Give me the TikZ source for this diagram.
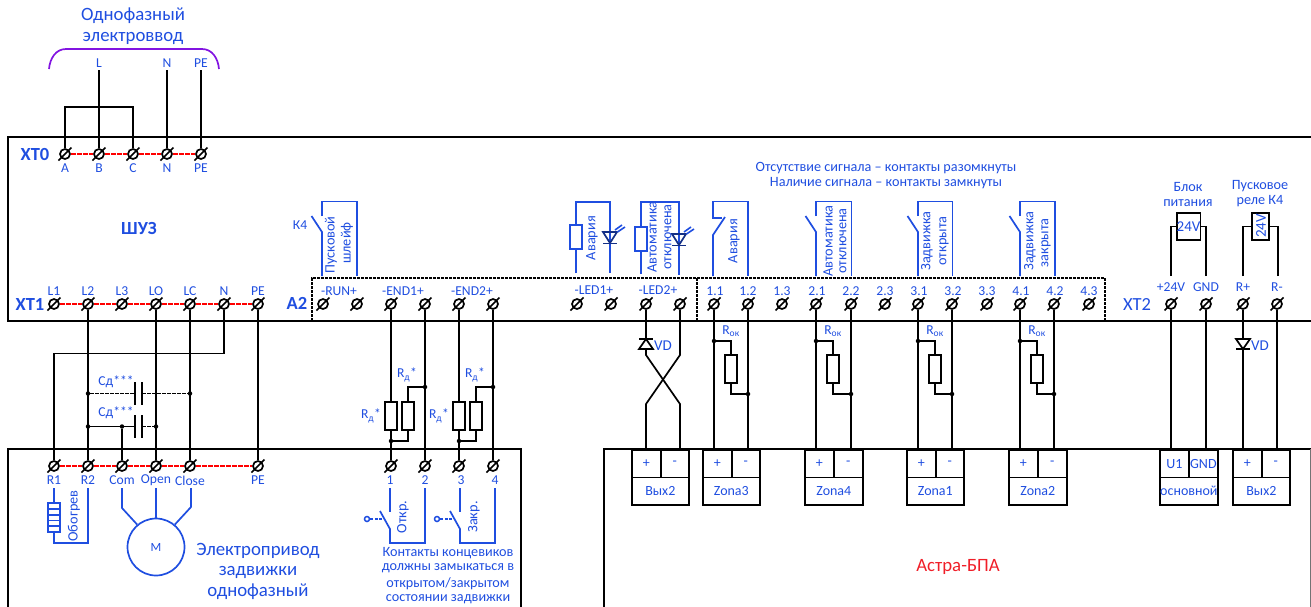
\documentclass[tikz,border=0pt]{standalone}
\usepackage{fontspec}
\setmainfont{Carlito}
\usepackage{tikz}
\usetikzlibrary{calc}
\definecolor{lblue}{RGB}{31,78,224}
\definecolor{lred}{RGB}{240,30,40}
\definecolor{lpurple}{RGB}{130,20,225}
\tikzset{
  wire/.style={line width=1.7pt,black},
  bwire/.style={line width=1.7pt,lblue},
  boxline/.style={line width=1.7pt,black},
  reddash/.style={line width=1.7pt,red,dash pattern=on 5pt off 1pt},
  termnode/.style={circle,draw,fill=white,line width=1.7pt,minimum size=10pt,inner sep=0pt},
  dotnode/.style={circle,fill=black,minimum size=4.5pt,inner sep=0pt},
  resnode/.style={rectangle,draw,fill=white,line width=1.7pt,minimum width=12pt,minimum height=28pt,inner sep=0pt},
  cellnode/.style={rectangle,draw,line width=1.7pt,text=lblue,font=\fontsize{14}{16}\selectfont,inner sep=0pt,minimum height=27.5pt},
  lbl/.style={text=lblue,font=\fontsize{13.6}{15}\selectfont,inner sep=0pt},
  biglbl/.style={text=lblue,font=\fontsize{18.8}{21}\selectfont,inner sep=0pt,align=center},
  boldlbl/.style={text=lblue,font=\fontsize{18.5}{20}\selectfont\bfseries,inner sep=0pt},
  rotlbl/.style={text=lblue,font=\fontsize{14.3}{15}\selectfont,inner sep=0pt,rotate=90},
  noteline/.style={text=lblue,font=\fontsize{14.2}{15}\selectfont,inner sep=0pt}
}
% Terminal: round screw with a slash
\newcommand{\terminal}[2]{
  \node[termnode] (#1) at #2 {};
  \draw[line width=1.7pt] ($(#1)+(-6.5,6.5)$) -- ($(#1)+(6.5,-6.5)$);
}
% Two cells and a name cell below them
\newcommand{\cellpair}[7]{
  \node[cellnode,minimum width=#3pt-#2pt,anchor=north west] (#1n) at (#2,476.5) {#7};
  \node[cellnode,minimum width=#4pt-#2pt,anchor=north west] (#1p) at (#2,449) {#5};
  \node[cellnode,minimum width=#3pt-#4pt,anchor=north west] (#1m) at (#4,449) {#6};
}
% Normally open contact, wired up into a bracket
\newcommand{\contact}[3]{
  \coordinate (#1a) at (#2,276);
  \coordinate (#1b) at (#2,232);
  \coordinate (#1c) at (#2,216);
  \coordinate (#1d) at (#2,201.5);
  \coordinate (#1e) at (#3,201.5);
  \coordinate (#1f) at (#3,276);
  \coordinate (#1g) at (#2-10.5,216);
  \draw[bwire] (#1a) -- (#1b) -- (#1g);
  \draw[bwire] (#1c) -- (#1d) -- (#1e) -- (#1f);
}
% Ballast resistor between a dot on one wire and a dot on the other
\newcommand{\rok}[4]{
  \node[resnode] (#1) at (#4,369) {};
  \node[dotnode] (#1u) at (#2,341) {};
  \node[dotnode] (#1l) at (#3,394) {};
  \draw[wire] (#1u) -| (#1.north);
  \draw[wire] (#1.south) |- (#1l);
  \node[lbl] (#1t) at (#4,331) {R\textsubscript{ок}};
}
% LED with its two rays
\newcommand{\led}[3]{
  \coordinate (#1) at (#2,#3);
  \draw[line width=1.7pt,lblue!60!black] ($(#1)+(-7,0)$) -- ($(#1)+(7,0)$) -- ($(#1)+(0,11)$) -- cycle;
  \draw[line width=1.7pt,lblue!60!black] ($(#1)+(-7,11.5)$) -- ($(#1)+(7,11.5)$);
  \draw[line width=1.6pt,lblue] ($(#1)+(5,-2)$) -- ($(#1)+(12,-7)$);
  \draw[line width=1.6pt,lblue] ($(#1)+(7.5,0)$) -- ($(#1)+(15,-5)$);
}
\begin{document}
\begin{tikzpicture}[x=1pt,y=-1pt]
  \useasboundingbox (0,0) rectangle (1311,606);

  % Boxes
  \draw[boxline] (1312,137) -- (8,137) -- (8,321) -- (1312,321);
  \draw[boxline] (8,607) -- (8,449) -- (521,449) -- (521,607);
  \draw[boxline] (604,607) -- (604,449) -- (1312,449);
  \draw[line width=1pt,black!55] (1310,449) -- (1310,607);
  \draw[boxline,dash pattern=on 3pt off 1pt] (312,321) -- (312,278) -- (1105,278) -- (1105,321);
  \draw[boxline,dash pattern=on 3pt off 1pt] (697,278) -- (697,321);

  % Input
  \node[biglbl] (title) at (133,26) {Однофазный\\[-0.5pt]электроввод};
  \draw[line width=1.7pt,lpurple] (49,69) .. controls (50,58) and (56,49) .. (66,49) -- (202,49) .. controls (212,49) and (218,58) .. (219,69);

  % Terminals XT0
  \node[boldlbl] (xt0) at (35,154) {XT0};
  \terminal{xa}{(65,154)}
  \terminal{xb}{(99,154)}
  \terminal{xc}{(133,154)}
  \terminal{xn}{(167,154)}
  \terminal{xpe}{(201,154)}
  \draw[reddash] (xa) -- (xb) (xb) -- (xc) (xc) -- (xn) (xn) -- (xpe);
  \node[lbl] (lxa) at (65,168) {A};
  \node[lbl] (lxb) at (99,168) {B};
  \node[lbl] (lxc) at (133,168) {C};
  \node[lbl] (lxn) at (167,168) {N};
  \node[lbl] (lxpe) at (201,168) {PE};
  \node[lbl] (inl) at (99,63) {L};
  \node[lbl] (inn) at (167,63) {N};
  \node[lbl] (inpe) at (201,63) {PE};
  \draw[wire] (inl) ++(0,7) -- (xb);
  \draw[wire] (inn) ++(0,7) -- (xn);
  \draw[wire] (inpe) ++(0,7) -- (xpe);
  \draw[wire] (xa) |- (99,107) -| (xc);

  \node[boldlbl] (shuz) at (139,228) {ШУЗ};

  % Terminals XT1
  \node[boldlbl] (xt1) at (30,304) {XT1};
  \terminal{ta}{(54,304)}
  \terminal{tb}{(88,304)}
  \terminal{tc}{(122,304)}
  \terminal{td}{(156,304)}
  \terminal{te}{(190,304)}
  \terminal{tf}{(224,304)}
  \terminal{tg}{(258,304)}
  \draw[reddash] (ta) -- (tb) (tb) -- (tc) (tc) -- (td) (td) -- (te) (te) -- (tf) (tf) -- (tg);
  \node[lbl] (lta) at (54,291) {L1};
  \node[lbl] (ltb) at (88,291) {L2};
  \node[lbl] (ltc) at (122,291) {L3};
  \node[lbl] (ltd) at (156,291) {LO};
  \node[lbl] (lte) at (190,291) {LC};
  \node[lbl] (ltf) at (224,291) {N};
  \node[lbl] (ltg) at (258,291) {PE};

  % Terminals A2
  \node[boldlbl] (atwo) at (297,303) {A2};
  \terminal{run1}{(323,304)}
  \terminal{run2}{(357,304)}
  \terminal{end1}{(391,304)}
  \terminal{end2}{(425,304)}
  \terminal{end3}{(459,304)}
  \terminal{end4}{(493,304)}
  \terminal{led1}{(577,304)}
  \terminal{led2}{(611,304)}
  \terminal{led3}{(646,304)}
  \terminal{led4}{(680,304)}
  \terminal{z11}{(714,304)}
  \terminal{z12}{(748,304)}
  \terminal{z13}{(782,304)}
  \terminal{z21}{(816,304)}
  \terminal{z22}{(851,304)}
  \terminal{z23}{(885,304)}
  \terminal{z31}{(918,304)}
  \terminal{z32}{(952,304)}
  \terminal{z33}{(987,304)}
  \terminal{z41}{(1020,304)}
  \terminal{z42}{(1054,304)}
  \terminal{z43}{(1089,304)}
  \node[lbl] (lrun) at (339,291) {-RUN+};
  \node[lbl] (lend1) at (403,291) {-END1+};
  \node[lbl] (lend2) at (472,291) {-END2+};
  \node[lbl] (lled1) at (594,290) {-LED1+};
  \node[lbl] (lled2) at (658,290) {-LED2+};
  \node[lbl] (l11) at (715,291) {1.1};
  \node[lbl] (l12) at (748,291) {1.2};
  \node[lbl] (l13) at (782,291) {1.3};
  \node[lbl] (l21) at (817,291) {2.1};
  \node[lbl] (l22) at (851,291) {2.2};
  \node[lbl] (l23) at (885,291) {2.3};
  \node[lbl] (l31) at (919,291) {3.1};
  \node[lbl] (l32) at (953,291) {3.2};
  \node[lbl] (l33) at (987,291) {3.3};
  \node[lbl] (l41) at (1021,291) {4.1};
  \node[lbl] (l42) at (1055,291) {4.2};
  \node[lbl] (l43) at (1089,291) {4.3};

  % Terminals XT2
  \node[text=lblue,font=\fontsize{18.5}{20}\selectfont,inner sep=0pt] (xt2) at (1137,304) {XT2};
  \terminal{pa}{(1171,304)}
  \terminal{pb}{(1206,304)}
  \terminal{pc}{(1243,304)}
  \terminal{pd}{(1277,304)}
  \node[lbl] (lpa) at (1171,287) {+24V};
  \node[lbl] (lpb) at (1206,287) {GND};
  \node[lbl] (lpc) at (1243,287) {R+};
  \node[lbl] (lpd) at (1277,287) {R-};

  % Start loop
  \contact{ka}{322}{357}
  \node[lbl] (kfour) at (300,225) {К4};
  \node[rotlbl] (ksa) at (331,245) {Пусковой};
  \node[rotlbl] (ksb) at (347,243) {шлейф};

  % LED outputs
  \node[resnode,draw=lblue,minimum height=24pt] (rla) at (576,237) {};
  \coordinate (rlat) at (576,202);
  \coordinate (rlas) at (576,273);
  \coordinate (rlae) at (610,202);
  \coordinate (rlaf) at (610,273);
  \draw[bwire] (rlas) -- (rla.south) (rla.north) -- (rlat) -- (rlae) -- (rlaf);
  \led{lda}{610}{232}
  \node[rotlbl] (txa) at (592,238) {Авария};

  \node[resnode,draw=lblue,minimum height=24pt] (rlb) at (641,239) {};
  \coordinate (rlbt) at (641,202);
  \coordinate (rlbs) at (641,274);
  \coordinate (rlbe) at (679,202);
  \coordinate (rlbf) at (679,275);
  \draw[bwire] (rlbs) -- (rlb.south) (rlb.north) -- (rlbt) -- (rlbe) -- (rlbf);
  \led{ldb}{679}{234}
  \node[rotlbl] (txba) at (652,237) {Автоматика};
  \node[rotlbl] (txbb) at (668,237) {отключена};

  % Signal contacts
  \coordinate (nca) at (713,276);
  \coordinate (ncb) at (713,235);
  \coordinate (ncc) at (725,217);
  \coordinate (ncd) at (713,218);
  \coordinate (nce) at (713,201.5);
  \coordinate (ncf) at (748,201.5);
  \coordinate (ncg) at (748,276);
  \coordinate (nch) at (722,218);
  \draw[bwire] (nca) -- (ncb) -- (ncc);
  \draw[bwire] (ncg) -- (ncf) -- (nce) -- (ncd) -- (nch);
  \node[rotlbl] (tya) at (734,241) {Авария};

  \contact{kb}{816}{851.5}
  \node[rotlbl] (tyb) at (828,241) {Автоматика};
  \node[rotlbl] (tyc) at (843,241) {отключена};
  \contact{kc}{918}{952.5}
  \node[rotlbl] (tyd) at (927,241) {Задвижка};
  \node[rotlbl] (tye) at (944,241) {открыта};
  \contact{kd}{1020}{1055}
  \node[rotlbl] (tyf) at (1030,241) {Задвижка};
  \node[rotlbl] (tyg) at (1046,243) {закрыта};
  \node[noteline] (nota) at (886,168) {Отсутствие сигнала – контакты разомкнуты};
  \node[noteline] (notb) at (886,183) {Наличие сигнала – контакты замкнуты};

  % Power supply and relay
  \node[noteline,align=center] (psu) at (1188,194) {Блок\\питания};
  \node[noteline,align=center] (rel) at (1260,194) {Пусковое\\реле К4};
  \node[rectangle,draw,line width=1.7pt,minimum width=23pt,minimum height=27.5pt,inner sep=0pt,text=lblue,font=\fontsize{15}{16}\selectfont] (coila) at (1188.5,226.5) {24V};
  \node[rectangle,draw,line width=1.7pt,minimum width=17.5pt,minimum height=27.5pt,inner sep=0pt] (coilb) at (1260.5,226.5) {};
  \node[rotlbl,font=\fontsize{15}{16}\selectfont] (coilt) at (1261,226) {24V};
  \coordinate (cpa) at (1171,276);
  \coordinate (cpb) at (1206,276);
  \coordinate (cpc) at (1243,276);
  \coordinate (cpd) at (1278,276);
  \draw[wire] (cpa) |- (coila.west);
  \draw[wire] (cpb) |- (coila.east);
  \draw[wire] (cpc) |- (coilb.west);
  \draw[wire] (cpd) |- (coilb.east);

  % Drive box
  \terminal{ma}{(54,466)}
  \terminal{mb}{(88,466)}
  \terminal{mc}{(122,466)}
  \terminal{md}{(156,466)}
  \terminal{me}{(190,466)}
  \terminal{mf}{(258,466)}
  \draw[reddash] (ma) -- (mb) (mb) -- (mc) (mc) -- (md) (md) -- (me) (me) -- (mf);
  \node[lbl] (lma) at (54,480) {R1};
  \node[lbl] (lmb) at (88,480) {R2};
  \node[lbl] (lmc) at (122,480) {Com};
  \node[lbl] (lmd) at (156,480) {Open};
  \node[lbl] (lme) at (190,481) {Close};
  \node[lbl] (lmf) at (258,480) {PE};
  \draw[wire] (tf) |- (54,353.5) -- (ma);
  \draw[wire] (tb) -- (mb);
  \draw[wire] (td) -- (md);
  \draw[wire] (te) -- (me);
  \draw[wire] (tg) -- (mf);

  % Capacitors
  \node[dotnode] (cda) at (88,393.5) {};
  \node[dotnode] (cdb) at (190,393.5) {};
  \node[dotnode] (cdc) at (88,426.5) {};
  \node[dotnode] (cdd) at (122,426.5) {};
  \node[dotnode] (cde) at (156,426.5) {};
  \coordinate (capa) at (135,393.5);
  \coordinate (capb) at (142,393.5);
  \coordinate (capc) at (135,426.5);
  \coordinate (capd) at (142,426.5);
  \draw[wire,dash pattern=on 4pt off 1pt] (cda) -- (capa);
  \draw[wire,dash pattern=on 4pt off 1pt] (capb) -- (cdb);
  \draw[wire] (cdc) -- (cdd) -- (capc);
  \draw[wire,dash pattern=on 4pt off 1pt] (capd) -- (cde);
  \draw[wire] (135,382) -- (135,405);
  \draw[wire] (142,382) -- (142,405);
  \draw[wire] (135,415) -- (135,438);
  \draw[wire] (142,415) -- (142,438);
  \draw[wire] (cdd) -- (mc);
  \node[lbl] (lcapa) at (116,382) {Сд***};
  \node[lbl] (lcapb) at (116,413) {Сд***};

  % Heater
  \coordinate (hta) at (54,488);
  \coordinate (htb) at (88,488);
  \coordinate (htc) at (54,543);
  \coordinate (htd) at (88,543);
  \node[rectangle,draw=lblue,line width=1.7pt,minimum width=12pt,minimum height=29pt,inner sep=0pt] (heat) at (54,517.5) {};
  \draw[bwire] (hta) -- (heat.north);
  \draw[bwire] (heat.south) -- (htc) -- (htd) -- (htb);
  \draw[line width=1.3pt,lblue] (48,509) -- (60,509) (48,515) -- (60,515) (48,520.5) -- (60,520.5) (48,526) -- (60,526);
  \node[rotlbl] (lheat) at (74,516) {Обогрев};

  % Motor
  \node[circle,draw=lblue,line width=1.7pt,minimum size=57pt,inner sep=0pt,text=lblue,font=\fontsize{12.5}{14}\selectfont] (motor) at (156,547) {М};
  \coordinate (mwa) at (122,488);
  \coordinate (mwb) at (122,508);
  \coordinate (mwc) at (156,488);
  \coordinate (mwd) at (191,488);
  \coordinate (mwe) at (191,507);
  \draw[bwire] (mwa) -- (mwb) -- (motor.130);
  \draw[bwire] (mwc) -- (motor.north);
  \draw[bwire] (mwd) -- (mwe) -- (motor.50);
  \node[biglbl] (drive) at (258,571) {Электропривод\\[-0.5pt]задвижки\\[-0.5pt]однофазный};

  % Additional resistors
  \node[resnode] (rda) at (391,416) {};
  \node[resnode] (rdb) at (408,416) {};
  \node[resnode] (rdc) at (459,416) {};
  \node[resnode] (rdd) at (476,416) {};
  \terminal{la}{(391,466)}
  \terminal{lb}{(425,466)}
  \terminal{lc}{(459,466)}
  \terminal{ld}{(493,466)}
  \node[dotnode] (dta) at (425,387) {};
  \node[dotnode] (dtb) at (391,441) {};
  \node[dotnode] (dtc) at (493,387) {};
  \node[dotnode] (dtd) at (459,441) {};
  \draw[wire] (end1) -- (rda.north) (rda.south) -- (la);
  \draw[wire] (end2) -- (lb);
  \draw[wire] (end3) -- (rdc.north) (rdc.south) -- (lc);
  \draw[wire] (end4) -- (ld);
  \draw[wire] (rdb.north) |- (dta);
  \draw[wire] (rdb.south) |- (dtb);
  \draw[wire] (rdd.north) |- (dtc);
  \draw[wire] (rdd.south) |- (dtd);
  \node[lbl] (rdla) at (371,416) {R\textsubscript{д}*};
  \node[lbl] (rdlb) at (407,375) {R\textsubscript{д}*};
  \node[lbl] (rdlc) at (439,416) {R\textsubscript{д}*};
  \node[lbl] (rdld) at (475,375) {R\textsubscript{д}*};
  \node[lbl] (lla) at (390,480) {1};
  \node[lbl] (llb) at (425,480) {2};
  \node[lbl] (llc) at (461,480) {3};
  \node[lbl] (lld) at (495,480) {4};

  % Limit switches
  \coordinate (swa) at (390,488);
  \coordinate (swb) at (390,512);
  \coordinate (swc) at (380,511);
  \coordinate (swd) at (390,529);
  \coordinate (swe) at (390,543);
  \coordinate (swf) at (425,543);
  \coordinate (swg) at (425,488);
  \coordinate (swq) at (385,519);
  \draw[bwire] (swa) -- (swb);
  \draw[bwire] (swc) -- (swd) -- (swe) -- (swf) -- (swg);
  \node[circle,draw=lblue,line width=1.5pt,minimum size=5pt,inner sep=0pt] (swo) at (367,519) {};
  \draw[line width=1.4pt,lblue,dash pattern=on 3pt off 1.5pt] (swo) -- (swq);
  \node[rotlbl] (lswa) at (403,517) {Откр.};
  \coordinate (swh) at (460,488);
  \coordinate (swi) at (460,512);
  \coordinate (swj) at (450,511);
  \coordinate (swk) at (460,529);
  \coordinate (swl) at (460,543);
  \coordinate (swm) at (495,543);
  \coordinate (swn) at (495,488);
  \coordinate (swr) at (455,519);
  \draw[bwire] (swh) -- (swi);
  \draw[bwire] (swj) -- (swk) -- (swl) -- (swm) -- (swn);
  \node[circle,draw=lblue,line width=1.5pt,minimum size=5pt,inner sep=0pt] (swp) at (437,519) {};
  \draw[line width=1.4pt,lblue,dash pattern=on 3pt off 1.5pt] (swp) -- (swr);
  \node[rotlbl] (lswb) at (474,517) {Закр.};
  \node[noteline] (cta) at (448,553) {Контакты концевиков};
  \node[noteline] (ctb) at (448,568) {должны замыкаться в};
  \node[noteline] (ctc) at (448,584) {открытом/закрытом};
  \node[noteline] (ctd) at (448,599) {состоянии задвижки};

  % Astra blocks
  \cellpair{ba}{631}{688}{660}{+}{-}{Вых2}
  \cellpair{bb}{702}{759}{731}{+}{-}{Zona3}
  \cellpair{bc}{804}{862}{833}{+}{-}{Zona4}
  \cellpair{bd}{906}{963}{935}{+}{-}{Zona1}
  \cellpair{be}{1008}{1066}{1037}{+}{-}{Zona2}
  \cellpair{bf}{1159}{1217}{1188}{U1}{GND}{основной}
  \cellpair{bg}{1232}{1289}{1261}{+}{-}{Вых2}
  \node[text=lred,font=\fontsize{18.8}{20}\selectfont,inner sep=0pt] (astra) at (958,567) {Астра-БПА};

  % Crossed pair with diode
  \coordinate (xsa) at (646,355);
  \coordinate (xsb) at (680,355);
  \coordinate (xsc) at (646,404);
  \coordinate (xsd) at (680,404);
  \draw[wire] (led3) -- (xsa) -- (xsd) -- (led4 |- bam.north);
  \draw[wire] (led4) -- (xsb) -- (xsc) -- (led3 |- bap.north);
  \draw[wire,fill=white] (639,349) -- (653,349) -- (646,339) -- cycle;
  \draw[wire] (639,339) -- (653,339);
  \node[lbl,font=\fontsize{15}{16}\selectfont] (vda) at (663,346) {VD};

  % Zone wires
  \draw[wire] (z11) -- (z11 |- bbp.north);
  \draw[wire] (z12) -- (z12 |- bbm.north);
  \draw[wire] (z21) -- (z21 |- bcp.north);
  \draw[wire] (z22) -- (z22 |- bcm.north);
  \draw[wire] (z31) -- (z31 |- bdp.north);
  \draw[wire] (z32) -- (z32 |- bdm.north);
  \draw[wire] (z41) -- (z41 |- bep.north);
  \draw[wire] (z42) -- (z42 |- bem.north);
  \rok{rka}{714}{748}{731}
  \rok{rkb}{816}{851}{833}
  \rok{rkc}{918}{952}{935}
  \rok{rkd}{1020}{1054}{1037}

  % Supply wires
  \draw[wire] (pa) -- (pa |- bfp.north);
  \draw[wire] (pb) -- (pb |- bfm.north);
  \draw[wire] (pc) -- (pc |- bgp.north);
  \draw[wire] (pd) -- (pd |- bgm.north);
  \draw[wire,fill=white] (1236,339) -- (1250,339) -- (1243,349) -- cycle;
  \draw[wire] (1236,349) -- (1250,349);
  \node[lbl,font=\fontsize{15}{16}\selectfont] (vdb) at (1260,346) {VD};
\end{tikzpicture}
\end{document}
